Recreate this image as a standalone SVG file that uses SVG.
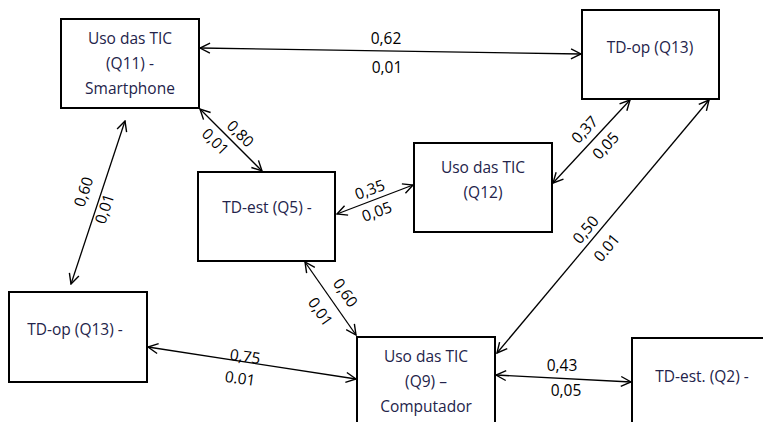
<svg xmlns="http://www.w3.org/2000/svg" width="763" height="422" viewBox="0 0 763 422">
<defs>
<marker id="ah" viewBox="0 0 12 12" refX="11" refY="6" markerWidth="12" markerHeight="12" markerUnits="userSpaceOnUse" orient="auto-start-reverse">
<path d="M1,1 L11,6 L1,11" fill="none" stroke="#000" stroke-width="1.4"/>
</marker>
<style>
.box{fill:#fff;stroke:#000;stroke-width:2}
.nt{font-family:"Open Sans","Liberation Sans",sans-serif;font-size:15.5px;fill:#23234a;text-anchor:middle}
.lbl{font-family:"Open Sans","Liberation Sans",sans-serif;font-size:15.5px;fill:#000;text-anchor:middle}
.cn{stroke:#000;stroke-width:1.3;fill:none;marker-start:url(#ah);marker-end:url(#ah)}
</style>
</defs>
<rect width="763" height="422" fill="#fff"/>
<g id="connectors">
<line class="cn" x1="200" y1="48" x2="581" y2="54"/>
<line class="cn" x1="200" y1="109" x2="262" y2="171"/>
<line class="cn" x1="125" y1="121" x2="71" y2="284"/>
<line class="cn" x1="337" y1="214" x2="413" y2="185"/>
<line class="cn" x1="553" y1="183" x2="630" y2="100"/>
<line class="cn" x1="497" y1="353" x2="709" y2="100"/>
<line class="cn" x1="305" y1="262" x2="356" y2="335"/>
<line class="cn" x1="148" y1="347" x2="356" y2="379"/>
<line class="cn" x1="496" y1="375" x2="631" y2="382"/>
<text class="lbl" x="386" y="44">0,62</text>
<text class="lbl" x="387" y="73">0,01</text>
<text class="lbl" transform="translate(240,134) rotate(45)" y="5">0,80</text>
<text class="lbl" transform="translate(215,142) rotate(45)" y="5">0,01</text>
<text class="lbl" transform="translate(84,192) rotate(-72)" y="5">0,60</text>
<text class="lbl" transform="translate(105,209) rotate(-72)" y="5">0,01</text>
<text class="lbl" transform="translate(370,190) rotate(-20)" y="5">0,35</text>
<text class="lbl" transform="translate(377,212) rotate(-20)" y="5">0,05</text>
<text class="lbl" transform="translate(585,130) rotate(-47)" y="5">0,37</text>
<text class="lbl" transform="translate(606,146) rotate(-47)" y="5">0,05</text>
<text class="lbl" transform="translate(586,230) rotate(-50)" y="5">0,50</text>
<text class="lbl" transform="translate(607,248) rotate(-50)" y="5">0.01</text>
<text class="lbl" transform="translate(345,293) rotate(55)" y="5">0,60</text>
<text class="lbl" transform="translate(320,312) rotate(55)" y="5">0,01</text>
<text class="lbl" transform="translate(245,357) rotate(8)" y="5">0,75</text>
<text class="lbl" transform="translate(240,379) rotate(8)" y="5">0.01</text>
<text class="lbl" x="562" y="371">0,43</text>
<text class="lbl" x="566" y="396">0,05</text>
</g>
<g id="n-q11">
<rect class="box" x="61" y="19" width="138" height="89"/>
<text class="nt" x="130" y="44">Uso das TIC</text>
<text class="nt" x="130" y="69">(Q11) -</text>
<text class="nt" x="130" y="94">Smartphone</text>
</g>
<g id="n-q13-top">
<rect class="box" x="582" y="10" width="137" height="89"/>
<text class="nt" x="650" y="53">TD-op (Q13)</text>
</g>
<g id="n-q12">
<rect class="box" x="414" y="143" width="138" height="89"/>
<text class="nt" x="483" y="173">Uso das TIC</text>
<text class="nt" x="483" y="198">(Q12)</text>
</g>
<g id="n-q5">
<rect class="box" x="198" y="172" width="137" height="89"/>
<text class="nt" x="267" y="213">TD-est (Q5) -</text>
</g>
<g id="n-q13-left">
<rect class="box" x="9" y="292" width="138" height="90"/>
<text class="nt" x="75" y="335">TD-op (Q13) -</text>
</g>
<g id="n-q9">
<rect class="box" x="357" y="337" width="138" height="95"/>
<text class="nt" x="426" y="362">Uso das TIC</text>
<text class="nt" x="426" y="387">(Q9) –</text>
<text class="nt" x="426" y="412">Computador</text>
</g>
<g id="n-q2">
<rect class="box" x="632" y="338" width="140" height="95"/>
<text class="nt" x="702" y="382">TD-est. (Q2) -</text>
</g>
</svg>
